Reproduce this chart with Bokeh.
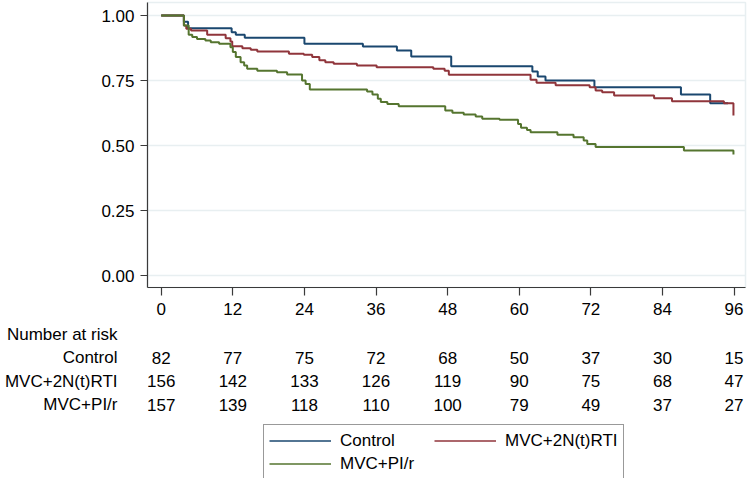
from bokeh.plotting import figure
from bokeh.models import Range1d, FixedTicker, PrintfTickFormatter, Legend, LegendItem
from bokeh.layouts import column
from bokeh.embed import file_html
from bokeh.resources import INLINE
from bokeh.core.properties import value

# ---------------- data ----------------
series_names = ["Control", "MVC+2N(t)RTI", "MVC+PI/r"]

control_t = [0, 3.8, 4.5, 11.8, 12.5, 14.0, 24.0, 33.8, 39.5, 41.9, 48.6, 62.2, 63.1, 64.4,
             72.6, 87.1, 92.0, 95.0]
control_s = [1.0, 0.976, 0.951, 0.936, 0.926, 0.914, 0.891, 0.881, 0.865, 0.842, 0.805, 0.785,
             0.765, 0.750, 0.724, 0.696, 0.663, 0.663]

nrti_t = [0, 3.8, 4.2, 5.0, 7.7, 10.8, 11.6, 11.9, 13.6, 15.0, 16.1, 21.4, 23.9, 25.3, 26.5,
          27.5, 28.9, 32.8, 36.1, 45.6, 47.5, 48.2, 61.9, 62.9, 66.1, 71.8, 72.8, 73.9, 75.9,
          82.6, 85.6, 94.3, 95.9]
nrti_s = [1.0, 0.962, 0.949, 0.942, 0.926, 0.913, 0.900, 0.882, 0.874, 0.868, 0.862, 0.853,
          0.849, 0.840, 0.828, 0.820, 0.814, 0.808, 0.801, 0.795, 0.788, 0.772, 0.753, 0.741,
          0.732, 0.724, 0.712, 0.705, 0.692, 0.682, 0.670, 0.663, 0.615]

pir_t = [0, 3.8, 4.6, 5.2, 6.0, 7.4, 8.3, 9.7, 11.6, 12.0, 12.5, 13.3, 13.9, 14.4, 16.1, 19.4,
         21.1, 23.6, 24.2, 24.9, 34.5, 35.4, 36.3, 36.8, 37.9, 39.8, 47.6, 48.8, 50.7, 52.7,
         53.8, 56.7, 59.8, 60.3, 61.3, 61.9, 66.4, 69.1, 70.8, 71.4, 72.8, 87.6, 95.9]
pir_s = [1.0, 0.962, 0.926, 0.917, 0.910, 0.904, 0.897, 0.891, 0.878, 0.860, 0.840, 0.820,
         0.808, 0.795, 0.788, 0.782, 0.773, 0.750, 0.737, 0.715, 0.708, 0.696, 0.680, 0.667,
         0.660, 0.651, 0.635, 0.626, 0.619, 0.612, 0.603, 0.599, 0.583, 0.568, 0.560, 0.551,
         0.541, 0.532, 0.519, 0.506, 0.494, 0.481, 0.465]

x_ticks = [0, 12, 24, 36, 48, 60, 72, 84, 96]
y_ticks = [0.0, 0.25, 0.50, 0.75, 1.00]

risk_header = "Number at risk"
risk_control = [82, 77, 75, 72, 68, 50, 37, 30, 15]
risk_nrti = [156, 142, 133, 126, 119, 90, 75, 68, 47]
risk_pir = [157, 139, 118, 110, 100, 79, 49, 37, 27]

# ---------------- styling ----------------
FONT = "Liberation Sans"
FS = "17px"
colors = ["#1a476f", "#90353b", "#55752f"]
GRID = "#e8eff1"
AXIS = "#3a3a3a"

LEFT = 147
RIGHT = 2
FRAME_W = 598
X_RANGE = Range1d(-2.3, 97.92)

# ---------------- main plot ----------------
p = figure(frame_width=FRAME_W, frame_height=285,
           x_range=X_RANGE, y_range=Range1d(-0.046, 1.05),
           output_backend="svg", toolbar_location=None,
           min_border_left=LEFT, min_border_right=RIGHT, min_border_top=2, min_border_bottom=35)
p.background_fill_color = "white"
p.border_fill_color = "white"
p.outline_line_color = GRID
p.outline_line_width = 1.5
p.xgrid.visible = False
p.ygrid.grid_line_color = GRID
p.ygrid.grid_line_width = 1.5

p.xaxis.ticker = FixedTicker(ticks=x_ticks)
p.yaxis.ticker = FixedTicker(ticks=y_ticks)
p.yaxis.formatter = PrintfTickFormatter(format="%.2f")
for ax in (p.xaxis, p.yaxis):
    ax.axis_line_color = AXIS
    ax.axis_line_width = 1.2
    ax.major_tick_line_color = AXIS
    ax.major_tick_line_width = 1.2
    ax.minor_tick_line_color = None
    ax.major_tick_in = 0
    ax.major_label_text_font = FONT
    ax.major_label_text_font_size = FS
    ax.major_label_text_color = "black"
p.xaxis.major_tick_out = 8
p.xaxis.major_label_standoff = 7
p.yaxis.major_tick_out = 7
p.yaxis.major_label_standoff = 6

curves = [(control_t, control_s), (nrti_t, nrti_s), (pir_t, pir_s)]
for (ts, ss), c in zip(curves, colors):
    p.step(x=ts, y=ss, mode="after", line_color=c, line_width=2)

# ---------------- number at risk table + legend ----------------
row_labels = [risk_header] + series_names
row_index = list(range(len(row_labels)))
t = figure(frame_width=FRAME_W, frame_height=156, x_range=X_RANGE,
           y_range=Range1d(6.128, -0.51),
           output_backend="svg", toolbar_location=None,
           min_border_left=LEFT, min_border_right=RIGHT, min_border_top=0, min_border_bottom=0,
           x_axis_location=None)
t.outline_line_color = None
t.background_fill_color = "white"
t.xgrid.visible = False
t.ygrid.visible = False
t.yaxis.ticker = FixedTicker(ticks=row_index)
t.yaxis.major_label_overrides = {i: lab for i, lab in zip(row_index, row_labels)}
t.yaxis.axis_line_color = None
t.yaxis.major_tick_line_color = None
t.yaxis.minor_tick_line_color = None
t.yaxis.major_tick_out = 0
t.yaxis.major_label_standoff = 30
t.yaxis.major_label_text_font = FONT
t.yaxis.major_label_text_font_size = FS
t.yaxis.major_label_text_color = "black"

xs, ys, txt = [], [], []
for row, vals in zip(row_index[1:], [risk_control, risk_nrti, risk_pir]):
    for xv, v in zip(x_ticks, vals):
        xs.append(xv)
        ys.append(row)
        txt.append(str(v))
t.text(x=xs, y=ys, text=txt, text_align="center", text_baseline="middle",
       text_font=value(FONT), text_font_size=FS, text_color="black")

items = []
for name, (ts, ss), c in zip(series_names, curves, colors):
    r = t.step(x=ts, y=ss, mode="after", line_color=c, line_width=1.5, visible=False)
    items.append(LegendItem(label=name, renderers=[r]))
leg = Legend(items=items, orientation="horizontal", ncols=2, location=(116, -2),
             glyph_width=62, glyph_height=21, label_height=21, label_width=92,
             label_standoff=9, spacing=2, padding=5, margin=0,
             label_text_font=FONT, label_text_font_size=FS, label_text_color="black",
             border_line_color="#333333", border_line_width=1,
             background_fill_color="white", background_fill_alpha=1.0,
             inactive_fill_alpha=0.0)
t.add_layout(leg, "center")

layout = column(p, t, spacing=0)
open("out.html", "w").write(file_html(layout, INLINE))
